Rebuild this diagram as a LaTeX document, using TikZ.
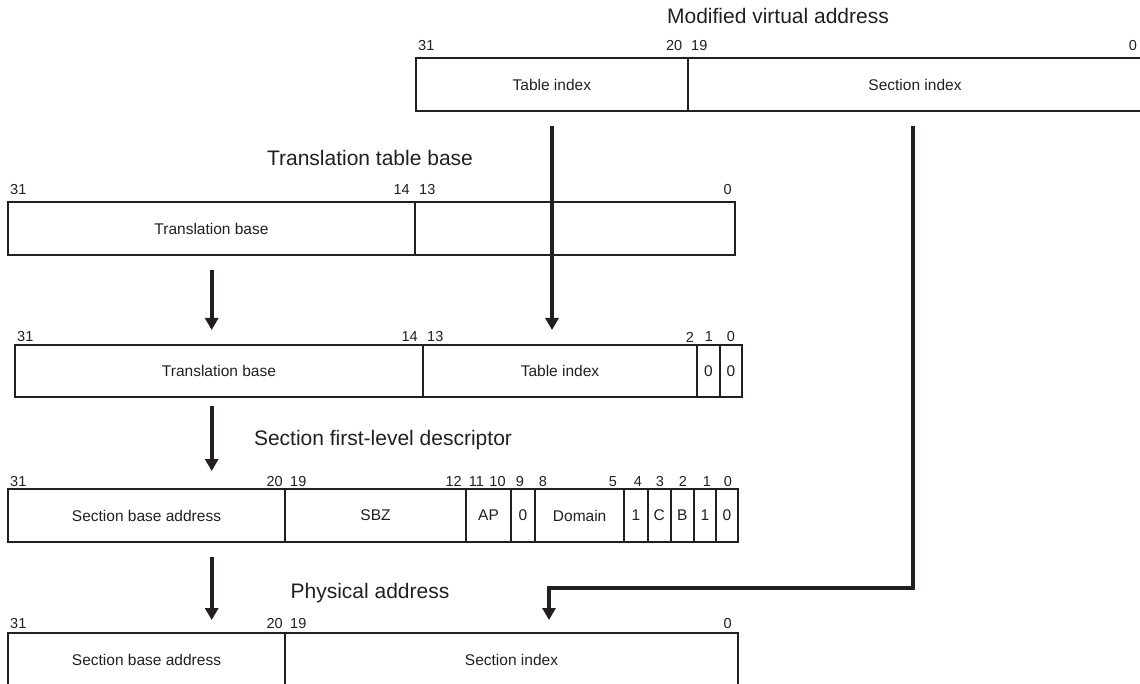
\documentclass[tikz,border=0pt]{standalone}
\usepackage{fontspec}
\setmainfont{Liberation Sans}
\usetikzlibrary{arrows.meta}
\definecolor{ink}{RGB}{35,31,32}
\tikzset{
  cell/.style={draw=ink, line width=2pt, inner sep=0pt, outer sep=0pt, rectangle, text=ink,
               font=\fontsize{15.5}{18}\selectfont},
  bit/.style={inner sep=0pt, text=ink, font=\fontsize{14.5}{16}\selectfont},
  ttl/.style={inner sep=0pt, anchor=base, text=ink, font=\fontsize{21}{25}\selectfont},
  arr/.style={line width=3.8pt, draw=ink, -{Triangle[width=13pt,length=12pt]}},
}
% name, x1, x2, y1, y2, text
\newcommand\mkcell[6]{%
  \pgfmathsetmacro\cw{#3-#2}\pgfmathsetmacro\ch{#5-#4}%
  \pgfmathsetmacro\cx{(#2+#3)/2}\pgfmathsetmacro\cy{(#4+#5)/2}%
  \node[cell, minimum width=\cw pt, minimum height=\ch pt] (#1) at (\cx,\cy) {#6};}
% name, anchor, x, y, text
\newcommand\mkbit[5]{\node[bit, anchor=#2] (#1) at (#3,#4) {#5};}
\begin{document}
\begin{tikzpicture}[x=1pt, y=-1pt]
\useasboundingbox (0,0) rectangle (1140,684);
\clip (0,0) rectangle (1140,684);

% ---- Modified virtual address
\node[ttl] (tMVA) at (778,24) {Modified virtual address};
\mkbit{m31}{west}{418}{46}{31}
\mkbit{m20}{east}{682.5}{46}{20}
\mkbit{m19}{west}{691}{46}{19}
\mkbit{m0}{east}{1137}{46}{0}
\mkcell{mvaT}{415.7}{688}{58.3}{110.7}{Table index}
\mkcell{mvaS}{688}{1142}{58.3}{110.7}{Section index}

% ---- Translation table base
\node[ttl] (tTTB) at (370,166) {Translation table base};
\mkbit{t31}{west}{10}{190}{31}
\mkbit{t14}{east}{410}{190}{14}
\mkbit{t13}{west}{419}{190}{13}
\mkbit{t0}{east}{732}{190}{0}
\mkcell{ttbA}{8}{415}{202}{255}{Translation base}
\mkcell{ttbB}{415}{735}{202}{255}{}

% ---- Row 3
\mkbit{r31}{west}{17}{337}{31}
\mkbit{r14}{east}{418}{337}{14}
\mkbit{r13}{west}{427}{337}{13}
\mkbit{r2}{center}{690}{337}{2}
\mkbit{r1}{center}{709}{337}{1}
\mkbit{r0}{center}{731}{337}{0}
\mkcell{r3A}{15}{423}{345}{397}{Translation base}
\mkcell{r3B}{423}{697}{345}{397}{Table index}
\mkcell{r3C}{697}{720}{345}{397}{0}
\mkcell{r3D}{720}{742}{345}{397}{0}

% ---- Section first-level descriptor
\node[ttl] (tSD) at (383,445) {Section first-level descriptor};
\mkbit{d31}{west}{10}{481.5}{31}
\mkbit{d20}{east}{283}{481.5}{20}
\mkbit{d19}{west}{290}{481.5}{19}
\mkbit{d12}{east}{462}{481.5}{12}
\mkbit{d11}{center}{476.5}{481.5}{11}
\mkbit{d10}{center}{497.5}{481.5}{10}
\mkbit{d9}{center}{520}{481.5}{9}
\mkbit{d8}{center}{543}{481.5}{8}
\mkbit{d5}{center}{613}{481.5}{5}
\mkbit{d4}{center}{638}{481.5}{4}
\mkbit{d3}{center}{660}{481.5}{3}
\mkbit{d2}{center}{683}{481.5}{2}
\mkbit{d1}{center}{707}{481.5}{1}
\mkbit{d0}{center}{728}{481.5}{0}
\mkcell{sA}{8}{285}{489.3}{541.7}{Section base address}
\mkcell{sB}{285}{466}{489.3}{541.7}{SBZ}
\mkcell{sC}{466}{511}{489.3}{541.7}{AP}
\mkcell{sD}{511}{535}{489.3}{541.7}{0}
\mkcell{sE}{535}{624.3}{489.3}{541.7}{Domain}
\mkcell{sF}{624.3}{647.7}{489.3}{541.7}{1}
\mkcell{sG}{647.7}{670.7}{489.3}{541.7}{C}
\mkcell{sH}{670.7}{694}{489.3}{541.7}{B}
\mkcell{sI}{694}{715.7}{489.3}{541.7}{1}
\mkcell{sJ}{715.7}{738}{489.3}{541.7}{0}

% ---- Physical address
\node[ttl] (tPA) at (370,598) {Physical address};
\mkbit{p31}{west}{10}{624}{31}
\mkbit{p20}{east}{283}{624}{20}
\mkbit{p19}{west}{290}{624}{19}
\mkbit{p0}{east}{732}{624}{0}
\mkcell{pA}{8}{285}{633}{686}{Section base address}
\mkcell{pB}{285}{738}{633}{686}{Section index}

% ---- connectors
\coordinate (a1s) at (552,126);   \coordinate (a1e) at (552,330);
\coordinate (a2s) at (211.7,270); \coordinate (a2e) at (211.7,330);
\coordinate (a3s) at (211.7,406); \coordinate (a3e) at (211.7,471);
\coordinate (a4s) at (211.7,557); \coordinate (a4e) at (211.7,620);
\coordinate (e1) at (913,126); \coordinate (e2) at (913,588);
\coordinate (e3) at (549,588); \coordinate (e4) at (549,620);
\draw[arr] (a1s) -- (a1e);
\draw[arr] (a2s) -- (a2e);
\draw[arr] (a3s) -- (a3e);
\draw[arr] (a4s) -- (a4e);
\draw[arr] (e1) -- (e2) -- (e3) -- (e4);
\end{tikzpicture}
\end{document}
